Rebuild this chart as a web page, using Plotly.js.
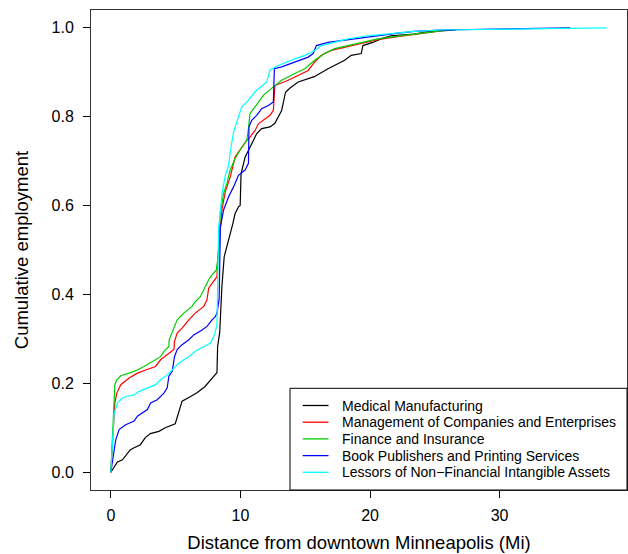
<!DOCTYPE html>
<html>
<head>
<meta charset="utf-8">
<script src="https://cdn.plot.ly/plotly-3.0.1.min.js"></script>
<style>html,body{margin:0;padding:0;background:#fff;}#chart{width:628px;height:554px;}</style>
</head>
<body>
<div id="chart"></div>
<script>
var seriesNames = [
  "Medical Manufacturing",
  "Management of Companies and Enterprises",
  "Finance and Insurance",
  "Book Publishers and Printing Services",
  "Lessors of Non\u2212Financial Intangible Assets"
];
var seriesColors = ["#000000", "#FF0000", "#00CD00", "#0000FF", "#00FFFF"];

var medicalX = [0, 0.51, 0.90, 1.49, 1.80, 2.28, 2.66, 3.05, 3.71, 4.20, 4.97, 5.12, 5.50, 6.12, 6.65, 7.27, 7.81, 8.04, 8.19, 8.24, 8.40, 8.57, 8.75, 8.96, 9.21, 9.42, 9.59, 9.85, 9.98, 10.05, 10.36, 10.74, 11.26, 11.64, 12.28, 12.66, 13.18, 13.48, 13.85, 14.46, 15.70, 16.76, 18.04, 18.55, 19.32, 19.45, 20.21, 20.85, 21.62, 23.38, 24.44, 26.61];
var medicalY = [0, 0.023, 0.028, 0.05, 0.055, 0.062, 0.078, 0.087, 0.092, 0.10, 0.109, 0.123, 0.16, 0.17, 0.179, 0.193, 0.213, 0.219, 0.224, 0.283, 0.314, 0.418, 0.485, 0.507, 0.537, 0.56, 0.582, 0.597, 0.60, 0.672, 0.709, 0.732, 0.762, 0.773, 0.777, 0.785, 0.814, 0.855, 0.865, 0.878, 0.89, 0.908, 0.927, 0.938, 0.942, 0.96, 0.967, 0.975, 0.982, 0.986, 0.991, 0.995];

var managementX = [0, 0.31, 0.46, 0.77, 1.41, 2.05, 2.69, 3.45, 3.84, 4.35, 4.87, 4.91, 5.12, 5.50, 6.02, 6.52, 7.17, 7.42, 7.55, 7.81, 8.19, 8.24, 8.57, 8.83, 9.21, 9.59, 9.98, 10.49, 10.74, 11.13, 11.39, 11.77, 12.28, 12.54, 12.66, 13.69, 14.46, 15.23, 15.73, 16.25, 17.01, 18.04, 19.32, 20.60, 22.13, 23.67, 25.46];
var managementY = [0, 0.156, 0.178, 0.197, 0.212, 0.223, 0.23, 0.238, 0.253, 0.264, 0.276, 0.294, 0.313, 0.324, 0.343, 0.358, 0.373, 0.388, 0.414, 0.425, 0.44, 0.478, 0.59, 0.631, 0.664, 0.709, 0.725, 0.747, 0.754, 0.769, 0.784, 0.792, 0.803, 0.814, 0.87, 0.882, 0.893, 0.904, 0.923, 0.938, 0.949, 0.956, 0.964, 0.973, 0.98, 0.986, 0.993];

var financeX = [0, 0.31, 0.46, 0.77, 1.41, 2.05, 2.56, 3.20, 3.84, 4.10, 4.48, 4.50, 4.99, 5.12, 5.63, 6.27, 6.52, 6.91, 7.42, 7.55, 7.81, 8.14, 8.32, 8.44, 8.70, 8.96, 9.21, 9.59, 9.98, 10.49, 10.62, 10.74, 11.13, 11.77, 12.54, 13.18, 14.20, 14.97, 15.73, 16.50, 17.27, 18.30, 19.32, 20.60, 21.87, 23.41, 25.46];
var financeY = [0, 0.197, 0.208, 0.217, 0.223, 0.23, 0.238, 0.249, 0.26, 0.272, 0.283, 0.298, 0.332, 0.343, 0.358, 0.373, 0.384, 0.395, 0.425, 0.433, 0.444, 0.455, 0.493, 0.582, 0.627, 0.65, 0.68, 0.706, 0.725, 0.747, 0.773, 0.807, 0.822, 0.848, 0.867, 0.882, 0.897, 0.908, 0.927, 0.942, 0.953, 0.96, 0.967, 0.975, 0.98, 0.986, 0.993];

var bookX = [0, 0.38, 0.64, 1.15, 1.80, 2.05, 2.82, 3.07, 3.58, 4.10, 4.35, 4.48, 4.74, 4.91, 5.12, 5.50, 6.02, 6.40, 7.04, 7.42, 7.81, 8.06, 8.19, 8.36, 8.45, 8.70, 9.09, 9.47, 9.85, 10.36, 10.62, 10.66, 10.87, 11.26, 11.64, 12.16, 12.54, 12.62, 13.18, 13.81, 14.58, 15.23, 15.61, 15.86, 16.76, 17.79, 18.80, 20.34, 21.87, 23.41, 25.46, 35.43];
var bookY = [0, 0.073, 0.096, 0.107, 0.115, 0.126, 0.141, 0.156, 0.163, 0.178, 0.19, 0.216, 0.227, 0.26, 0.276, 0.287, 0.298, 0.309, 0.32, 0.328, 0.343, 0.35, 0.358, 0.39, 0.55, 0.59, 0.62, 0.642, 0.668, 0.68, 0.695, 0.777, 0.792, 0.803, 0.818, 0.825, 0.833, 0.908, 0.912, 0.919, 0.927, 0.934, 0.942, 0.96, 0.967, 0.971, 0.975, 0.982, 0.987, 0.992, 0.995, 1.0];

var lessorsX = [0, 0.26, 0.51, 0.90, 1.28, 1.80, 2.18, 2.82, 3.45, 3.84, 4.35, 4.74, 5.12, 5.63, 6.02, 6.52, 7.17, 7.67, 7.94, 8.06, 8.19, 8.32, 8.57, 8.83, 9.09, 9.21, 9.47, 9.85, 10.11, 10.62, 11.13, 12.03, 12.28, 12.92, 13.56, 14.20, 14.97, 15.73, 16.25, 17.27, 18.30, 19.83, 21.37, 23.41, 25.46, 38.25];
var lessorsY = [0, 0.133, 0.156, 0.167, 0.171, 0.174, 0.182, 0.19, 0.197, 0.208, 0.219, 0.23, 0.242, 0.253, 0.26, 0.272, 0.283, 0.29, 0.305, 0.317, 0.33, 0.55, 0.625, 0.668, 0.69, 0.72, 0.765, 0.80, 0.822, 0.837, 0.856, 0.878, 0.905, 0.915, 0.923, 0.93, 0.938, 0.949, 0.96, 0.967, 0.975, 0.982, 0.987, 0.992, 0.995, 1.0];

var xTicks = [0, 10, 20, 30];
var yTicks = [0, 0.2, 0.4, 0.6, 0.8, 1.0];
var yTickLabels = ["0.0", "0.2", "0.4", "0.6", "0.8", "1.0"];

var xs = [medicalX, managementX, financeX, bookX, lessorsX];
var ys = [medicalY, managementY, financeY, bookY, lessorsY];

var traces = seriesNames.map(function (name, i) {
  return {
    type: "scatter", mode: "lines", name: name,
    x: xs[i], y: ys[i],
    line: {color: seriesColors[i], width: 1.2, shape: "linear"}
  };
});

var fontFam = "Liberation Sans, Arial, Helvetica, sans-serif";
var W = 628, H = 554;
var M = {l: 91, r: 1, t: 10, b: 64};
var pw = W - M.l - M.r, ph = H - M.t - M.b;
function px2x(p) { return (p - M.l) / pw; }
function px2y(p) { return (H - M.b - p) / ph; }

// Manual R-style legend box
var legLeft = 290, legTop = 388.3, rowH = 16.7, firstRow = 405.5;
var shapes = [{
  type: "rect", xref: "paper", yref: "paper",
  x0: px2x(legLeft), x1: 1, y0: 0, y1: px2y(legTop),
  line: {color: "#000", width: 1}, fillcolor: "#fff", layer: "above"
}];
var annotations = [];
seriesNames.forEach(function (name, i) {
  var yy = px2y(firstRow + i * rowH);
  shapes.push({
    type: "line", xref: "paper", yref: "paper",
    x0: px2x(302.7), x1: px2x(328.5), y0: yy, y1: yy,
    line: {color: seriesColors[i], width: 1.3}, layer: "above"
  });
  annotations.push({
    xref: "paper", yref: "paper", x: px2x(340), y: yy,
    xanchor: "left", yanchor: "middle", showarrow: false,
    text: name, font: {family: fontFam, size: 14, color: "#000"}
  });
});

var layout = {
  width: W, height: H,
  margin: {l: M.l, r: M.r, t: M.t, b: M.b, pad: 0},
  paper_bgcolor: "#fff", plot_bgcolor: "#fff",
  font: {family: fontFam, color: "#000", size: 16},
  showlegend: false,
  shapes: shapes,
  annotations: annotations,
  xaxis: {
    range: [-1.53, 39.83], tickmode: "array", tickvals: xTicks,
    ticks: "outside", ticklen: 7, tickcolor: "#000", tickwidth: 1,
    showline: true, mirror: true, linecolor: "#333", linewidth: 1,
    showgrid: false, zeroline: false,
    tickfont: {size: 16}, ticklabelstandoff: 4,
    title: {text: "Distance from downtown Minneapolis (Mi)", font: {size: 18.5}, standoff: 12}
  },
  yaxis: {
    range: [-0.04, 1.04], tickmode: "array", tickvals: yTicks, ticktext: yTickLabels,
    ticks: "outside", ticklen: 7, tickcolor: "#000", tickwidth: 1,
    showline: true, mirror: true, linecolor: "#333", linewidth: 1,
    showgrid: false, zeroline: false,
    tickfont: {size: 16}, ticklabelstandoff: 6,
    title: {text: "Cumulative employment", font: {size: 18.5}, standoff: 18}
  }
};

Plotly.newPlot("chart", traces, layout, {displayModeBar: false, staticPlot: true});
</script>
</body>
</html>
